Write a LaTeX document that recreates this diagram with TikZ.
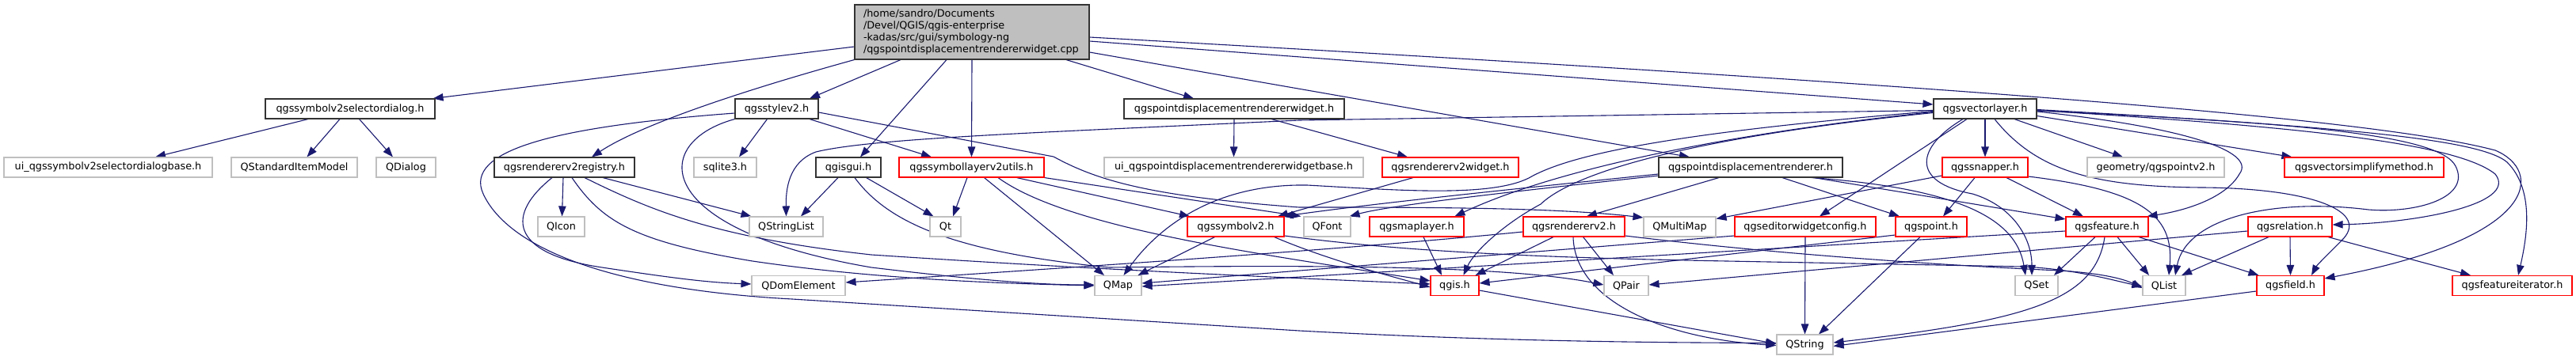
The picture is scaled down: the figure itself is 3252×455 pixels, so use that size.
\documentclass[tikz,border=0pt]{standalone}
\usepackage{fontspec}
\setmainfont{DejaVu Sans}
\usetikzlibrary{arrows.meta}
\definecolor{mblue}{RGB}{25,25,112}
\definecolor{greyS}{RGB}{191,191,191}
\pgfdeclarelayer{bg}
\pgfsetlayers{bg,main}
\tikzset{
  nd/.style={draw, line width=1.1pt, fill=white, minimum height=25pt, inner sep=0pt, font=\fontsize{12.8}{15}\selectfont},
  blk/.style={nd, draw=black!80},
  rdn/.style={nd, draw=red},
  gry/.style={nd, draw=greyS},
  e/.style={draw=mblue, line width=1.1pt, -{Triangle[length=13pt,width=9.5pt]}}
}
\begin{document}
\begin{tikzpicture}[x=1pt,y=-1pt]
\useasboundingbox (0,0) rectangle (3252,455);
% row 0
\node[nd, draw=black!80, fill=greyS, minimum width=296pt, minimum height=69pt, text width=274pt, inner xsep=11pt, align=left] (root) at (1227,40.5)
 {/home/sandro/Documents\\/Devel/QGIS/qgis-enterprise\\-kadas/src/gui/symbology-ng\\/qgspointdisplacementrendererwidget.cpp};
% row 1
\node[blk, minimum width=214pt] (ssd) at (442,137.5) {qgssymbolv2selectordialog.h};
\node[blk, minimum width=105pt] (ss) at (980.5,137.5) {qgsstylev2.h};
\node[blk, minimum width=278pt] (pdw) at (1558,137.5) {qgspointdisplacementrendererwidget.h};
\node[blk, minimum width=130pt] (vl) at (2506,137.5) {qgsvectorlayer.h};
% row 2
\node[gry, minimum width=263pt] (uissd) at (136.5,211.5) {ui\_qgssymbolv2selectordialogbase.h};
\node[gry, minimum width=159pt] (qsim) at (371.5,211.5) {QStandardItemModel};
\node[gry, minimum width=75pt] (qdialog) at (512.5,211.5) {QDialog};
\node[blk, minimum width=177pt] (rr) at (712.5,211.5) {qgsrendererv2registry.h};
\node[gry, minimum width=79pt] (sqlite) at (915.5,211.5) {sqlite3.h};
\node[blk, minimum width=82pt] (gg) at (1071,211.5) {qgisgui.h};
\node[rdn, minimum width=183pt] (slu) at (1226.5,211.5) {qgssymbollayerv2utils.h};
\node[gry, minimum width=327pt] (uipdw) at (1557.5,211.5) {ui\_qgspointdisplacementrendererwidgetbase.h};
\node[rdn, minimum width=172pt] (rv2w) at (1831,211.5) {qgsrendererv2widget.h};
\node[blk, minimum width=232pt] (pdr) at (2210,211.5) {qgspointdisplacementrenderer.h};
\node[rdn, minimum width=108pt] (snp) at (2506,211.5) {qgssnapper.h};
\node[gry, minimum width=173pt] (pv2) at (2721.5,211.5) {geometry/qgspointv2.h};
\node[rdn, minimum width=201pt] (vsm) at (2984.5,211.5) {qgsvectorsimplifymethod.h};
% row 3
\node[gry, minimum width=59pt] (qicon) at (708.5,286.5) {QIcon};
\node[gry, minimum width=93pt] (qsl) at (992.5,286.5) {QStringList};
\node[gry, minimum width=39pt] (qt) at (1193.5,286.5) {Qt};
\node[rdn, minimum width=122pt] (sv2) at (1560,286.5) {qgssymbolv2.h};
\node[gry, minimum width=59pt] (qfont) at (1675.5,286.5) {QFont};
\node[rdn, minimum width=119pt] (ml) at (1788.5,286.5) {qgsmaplayer.h};
\node[rdn, minimum width=128pt] (rv2) at (1987,286.5) {qgsrendererv2.h};
\node[gry, minimum width=91pt] (qmm) at (2120.5,286.5) {QMultiMap};
\node[rdn, minimum width=178pt] (ewc) at (2279,286.5) {qgseditorwidgetconfig.h};
\node[rdn, minimum width=90pt] (qpt) at (2438,286.5) {qgspoint.h};
\node[rdn, minimum width=104pt] (fea) at (2660,286.5) {qgsfeature.h};
\node[rdn, minimum width=106pt] (rel) at (2891,286.5) {qgsrelation.h};
% row 4
\node[gry, minimum width=118pt] (qdom) at (1008,361) {QDomElement};
\node[gry, minimum width=59pt] (qmap) at (1411.5,361) {QMap};
\node[rdn, minimum width=61pt] (qgis) at (1836.5,361) {qgis.h};
\node[gry, minimum width=56pt] (qpair) at (2053,361) {QPair};
\node[gry, minimum width=54pt] (qset) at (2571,361) {QSet};
\node[gry, minimum width=54pt] (qlist) at (2732,361) {QList};
\node[rdn, minimum width=85pt] (fld) at (2891.5,361) {qgsfield.h};
\node[rdn, minimum width=151pt] (fi) at (3171.5,361) {qgsfeatureiterator.h};
% row 5
\node[gry, minimum width=71pt] (qstr) at (2278.5,435.5) {QString};

\begin{pgfonlayer}{bg}
% root
\draw[e] ([yshift=-18.5pt]root.west) -- ([xshift=-3pt]ssd.north east);
\draw[e] (root.south west) .. controls (990,100) and (820,150) .. ([xshift=34.5pt]rr.north);
\draw[e] ([xshift=-90pt]root.south) -- ([xshift=41.5pt]ss.north);
\draw[e] ([xshift=-32pt]root.south) -- ([xshift=15pt]gg.north);
\draw[e] (root.south) -- (slu.north);
\draw[e] ([xshift=119pt]root.south) -- ([xshift=-51pt]pdw.north);
\draw[e] ([yshift=-25.5pt]root.east) -- ([xshift=-77pt]pdr.north);
\draw[e] ([yshift=-11.5pt]root.east) -- ([yshift=5.5pt]vl.west);
\draw[e] ([yshift=-6.5pt]root.east) .. controls (2500,110) and (3000,150) .. (3150,190) .. controls (3210,215) and (3210,300) .. ([yshift=9pt]fld.east);
% ssd
\draw[e] ([xshift=-53pt]ssd.south) -- ([xshift=59.5pt]uissd.north);
\draw[e] ([xshift=-13pt]ssd.south) -- ([xshift=16pt]qsim.north);
\draw[e] ([xshift=11.6pt]ssd.south) -- ([xshift=-16.5pt]qdialog.north);
% ss
\draw[e] ([xshift=-12pt]ss.south) -- ([xshift=17.5pt]sqlite.north);
\draw[e] ([xshift=41.5pt]ss.south) -- ([xshift=-50.5pt]slu.north);
\draw[e] ([yshift=-4.5pt]ss.east) -- (1330,198) .. controls (1385,228) and (1450,248) .. (1640,262) .. controls (1800,262) and (1960,262) .. ([yshift=11.5pt]qmm.west);
\draw[e] (ss.south west) .. controls (820,180) and (820,290) .. (1100,338) .. controls (1250,356) and (1320,360) .. ([yshift=1pt]qmap.west);
\draw[e] ([yshift=-5.5pt]ss.west) .. controls (700,160) and (585,190) .. (610,245) .. controls (640,310) and (760,365) .. (1000,378) -- (1640,418) .. controls (1900,432) and (2100,433) .. ([yshift=2pt]qstr.west);
% gg
\draw[e] ([xshift=-13pt]gg.south) -- ([xshift=18.5pt]qsl.north);
\draw[e] ([xshift=22.6pt]gg.south) -- ([xshift=-15pt]qt.north);
\draw[e] ([xshift=8pt]gg.south) .. controls (1120,280) and (1200,318) .. (1400,338) .. controls (1650,335) and (1900,335) .. ([yshift=1pt]qpair.west);
% rr
\draw[e] ([xshift=-15.5pt]rr.south) .. controls (640,270) and (640,320) .. (760,338) .. controls (840,350) and (890,357) .. ([yshift=2pt]qdom.west);
\draw[e] ([xshift=-1.5pt]rr.south) -- ([xshift=1pt]qicon.north);
\draw[e] ([xshift=48.5pt]rr.south) -- ([xshift=-44pt]qsl.north);
\draw[e] ([xshift=9.5pt]rr.south) .. controls (760,280) and (800,305) .. (950,330) .. controls (1100,352) and (1250,358) .. (qmap.west);
\draw[e] ([xshift=25.5pt]rr.south) .. controls (820,265) and (900,300) .. (1100,322) .. controls (1400,342) and (1650,352) .. ([yshift=2pt]qgis.west);
% slu
\draw[e] ([xshift=-5.5pt]slu.south) -- ([xshift=9.5pt]qt.north);
\draw[e] ([xshift=16pt]slu.south) -- ([xshift=-17.5pt]qmap.north);
\draw[e] ([xshift=57pt]slu.south) -- ([xshift=-58pt]sv2.north);
\draw[e] ([xshift=33.5pt]slu.south) .. controls (1350,290) and (1600,322) .. ([yshift=6pt]qgis.west);
\draw[e] (slu.south east) -- ([xshift=-3pt]qfont.north west);
% pdw
\draw[e] (pdw.south) -- (uipdw.north);
\draw[e] ([xshift=47pt]pdw.south) -- ([xshift=-54pt]rv2w.north);
% rv2w
\draw[e] ([xshift=-47pt]rv2w.south) -- ([xshift=53pt]sv2.north);
% pdr
\draw[e] ([yshift=-8.5pt]pdr.west) .. controls (1950,235) and (1750,255) .. ([xshift=-2pt]sv2.north east);
\draw[e] ([yshift=-10.5pt]pdr.west) .. controls (1950,238) and (1760,258) .. ([xshift=-2pt]qfont.north east);
\draw[e] ([xshift=-40pt]pdr.south) -- ([xshift=16pt]rv2.north);
\draw[e] ([xshift=40pt]pdr.south) -- ([xshift=-40pt]qpt.north);
\draw[e] ([xshift=77pt]pdr.south) .. controls (2470,238) and (2545,275) .. ([xshift=-14pt]qset.north);
\draw[e] ([xshift=80pt]pdr.south) -- ([yshift=9.5pt]fea.west);
% vl
\draw[e] ([yshift=-2pt]vl.west) -- (1640,152) .. controls (1300,168) and (1100,175) .. (1030,192) .. controls (995,205) and (992,240) .. (qsl.north);
\draw[e] ([yshift=-3pt]vl.west) .. controls (2150,165) and (1990,190) .. (1930,225) .. controls (1880,250) and (1760,240) .. (1650,234) .. controls (1530,232) and (1460,290) .. ([xshift=7pt]qmap.north);
\draw[e] ([yshift=-4pt]vl.west) .. controls (2150,172) and (1950,220) .. ([xshift=48pt]ml.north);
\draw[e] ([yshift=-5pt]vl.west) .. controls (2150,172) and (1990,215) .. (1945,258) .. controls (1895,285) and (1860,320) .. ([xshift=11pt]qgis.north);
\draw[e] ([xshift=-23pt]vl.south) -- ([xshift=18pt]ewc.north);
\draw[e] ([xshift=-28pt]vl.south) .. controls (2420,185) and (2410,230) .. (2490,245) .. controls (2540,260) and (2565,300) .. ([xshift=-6pt]qset.north);
\draw[e] (vl.south) -- (snp.north);
\draw[e] ([xshift=37pt]vl.south) -- ([xshift=-41.5pt]pv2.north);
\draw[e] ([xshift=12pt]vl.south) .. controls (2570,215) and (2640,236) .. (2780,237) .. controls (2920,238) and (2995,268) .. (2955,305) .. controls (2940,320) and (2925,335) .. ([xshift=26.5pt]fld.north);
\draw[e] ([yshift=-3.5pt]vl.east) .. controls (2750,160) and (2850,190) .. (2827,220) .. controls (2810,250) and (2760,266) .. ([xshift=-2pt]fea.north east);
\draw[e] ([yshift=-9pt]vl.east) -- ([xshift=10pt]vsm.north west);
\draw[e] ([yshift=-2pt]vl.east) .. controls (2900,160) and (3100,180) .. (3150,220) .. controls (3180,258) and (3050,282) .. ([yshift=2.5pt]rel.east);
\draw[e] ([yshift=-1pt]vl.east) .. controls (2950,160) and (3130,175) .. (3165,205) .. controls (3200,240) and (3190,300) .. ([xshift=7.5pt]fi.north);
\draw[e] ([yshift=-2.5pt]vl.east) .. controls (2900,155) and (3080,170) .. (3100,210) .. controls (3120,250) and (3050,270) .. (2990,265) .. controls (2870,250) and (2760,275) .. ([xshift=14pt]qlist.north);
% sv2
\draw[e] ([xshift=-26.4pt]sv2.south) -- ([xshift=25pt]qmap.north);
\draw[e] ([xshift=48.6pt]sv2.south) .. controls (1680,330) and (1760,350) .. ([yshift=-2pt]qgis.west);
\draw[e] ([yshift=-11.5pt]sv2.east) .. controls (1750,315) and (1900,325) .. (2180,330) -- (2553,337) .. controls (2620,340) and (2670,355) .. ([yshift=-1pt]qlist.west);
% ml
\draw[e] ([xshift=8.5pt]ml.south) -- ([xshift=-16.5pt]qgis.north);
% rv2
\draw[e] ([xshift=-26pt]rv2.south) -- ([xshift=26pt]qgis.north);
\draw[e] ([xshift=-1pt]rv2.south) .. controls (1988,380) and (2100,428) .. ([yshift=-1pt]qstr.west);
\draw[e] ([xshift=11.6pt]rv2.south) -- ([xshift=-16pt]qpair.north);
\draw[e] ([yshift=-6.5pt]rv2.west) .. controls (1700,315) and (1400,335) .. ([yshift=4pt]qdom.east);
\draw[e] ([yshift=-11.5pt]rv2.east) .. controls (2250,322) and (2450,335) .. (2600,342) .. controls (2650,345) and (2680,352) .. ([yshift=-3pt]qlist.west);
% snapper
\draw[e] ([xshift=-13pt]snp.south) -- ([xshift=15pt]qpt.north);
\draw[e] ([xshift=27pt]snp.south) -- ([xshift=-30pt]fea.north);
\draw[e] ([yshift=-11.5pt]snp.east) .. controls (2700,240) and (2745,270) .. ([xshift=6pt]qlist.north);
\draw[e] ([yshift=-10.5pt]snp.west) -- ([yshift=10pt]qmm.east);
% editorwidgetconfig
\draw[e] (ewc.south) -- (qstr.north);
\draw[e] ([yshift=-11.5pt]ewc.west) -- ([yshift=3pt]qmap.east);
% qgspoint
\draw[e] ([xshift=-14pt]qpt.south) -- ([xshift=17.5pt]qstr.north);
\draw[e] ([yshift=-10.5pt]qpt.west) -- ([yshift=3pt]qgis.east);
% feature
\draw[e] ([xshift=-15pt]fea.south) -- ([xshift=22pt]qset.north);
\draw[e] ([xshift=13pt]fea.south) -- ([xshift=-19pt]qlist.north);
\draw[e] ([xshift=40pt]fea.south) -- ([xshift=3pt]fld.north west);
\draw[e] ([xshift=-3pt]fea.south) .. controls (2645,380) and (2560,405) .. ([yshift=2.5pt]qstr.east);
\draw[e] ([yshift=-5.5pt]fea.west) -- ([yshift=-1pt]qmap.east);
% relation
\draw[e] ([xshift=-27pt]rel.south) -- ([xshift=22pt]qlist.north);
\draw[e] (rel.south) -- (fld.north);
\draw[e] ([xshift=48pt]rel.south) -- ([xshift=-52.5pt]fi.north);
\draw[e] ([yshift=-5.5pt]rel.west) -- ([yshift=1pt]qpair.east);
% field, qgis
\draw[e] ([yshift=-7pt]fld.west) -- ([yshift=-2pt]qstr.east);
\draw[e] ([yshift=-6pt]qgis.east) -- ([yshift=1pt]qstr.west);
\end{pgfonlayer}
\end{tikzpicture}
\end{document}
